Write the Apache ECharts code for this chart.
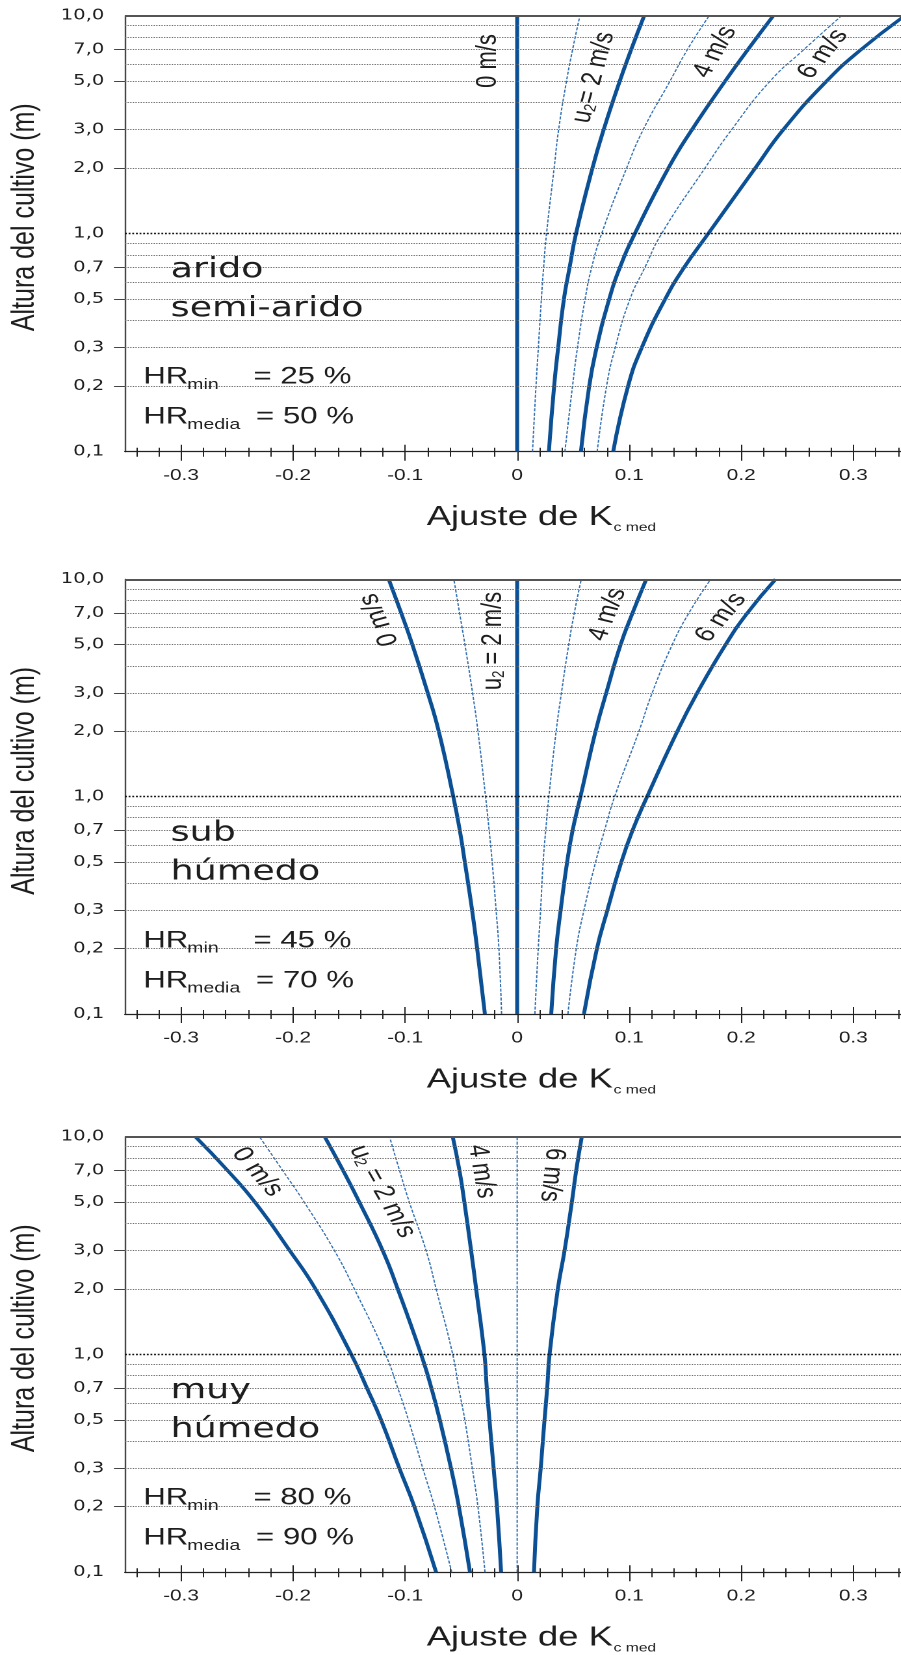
<!DOCTYPE html>
<html><head><meta charset="utf-8">
<script src="https://cdn.jsdelivr.net/npm/echarts@6/dist/echarts.min.js"></script>
<style>
html,body{margin:0;padding:0;background:#fff;overflow:hidden;}
#main{width:693px;height:1655px;transform:scaleX(1.3);transform-origin:0 0;}
</style></head><body><div id="main"></div>
<script>
// ---------- DATA ----------
const heights = [0.1, 0.2, 0.3, 0.5, 0.7, 1, 2, 3, 5, 7, 10];
// Panel 1: arido / semi-arido (u2 = 0..6 m/s)
const arido_u0 = [0, 0, 0, 0, 0, 0, 0, 0, 0, 0, 0];
const arido_u1 = [0.0137, 0.0168, 0.0189, 0.0216, 0.0236, 0.0262, 0.033, 0.037, 0.044, 0.0495, 0.056];
const arido_u2 = [0.0283, 0.033, 0.0366, 0.0417, 0.0468, 0.0525, 0.0672, 0.0772, 0.0915, 0.1018, 0.1134];
const arido_u3 = [0.0426, 0.0494, 0.0538, 0.0606, 0.0665, 0.0754, 0.0977, 0.1125, 0.1363, 0.152, 0.1714];
const arido_u4 = [0.0569, 0.0643, 0.0709, 0.0821, 0.0917, 0.105, 0.135, 0.156, 0.1855, 0.206, 0.2286];
const arido_u5 = [0.0714, 0.0798, 0.0875, 0.1006, 0.114, 0.1289, 0.1676, 0.1914, 0.2256, 0.256, 0.2896];
const arido_u6 = [0.0857, 0.099, 0.1112, 0.132, 0.149, 0.1705, 0.2125, 0.2375, 0.276, 0.307, 0.346];
// Panel 2: sub humedo
const sub_u0 = [-0.0288, -0.0357, -0.0402, -0.0467, -0.0512, -0.057, -0.07, -0.0798, -0.0935, -0.1035, -0.1146];
const sub_u1 = [-0.0139, -0.0163, -0.0188, -0.0223, -0.025, -0.0282, -0.035, -0.0398, -0.0466, -0.0514, -0.0565];
const sub_u2 = [0, 0, 0, 0, 0, 0, 0, 0, 0, 0, 0];
const sub_u3 = [0.0158, 0.0188, 0.0209, 0.0232, 0.0255, 0.0283, 0.0348, 0.0395, 0.046, 0.051, 0.0572];
const sub_u4 = [0.0304, 0.0348, 0.0388, 0.0446, 0.0495, 0.0565, 0.07, 0.0795, 0.0923, 0.103, 0.1152];
const sub_u5 = [0.0453, 0.0528, 0.0596, 0.07, 0.078, 0.087, 0.1087, 0.1205, 0.1384, 0.1533, 0.1727];
const sub_u6 = [0.0596, 0.0712, 0.0805, 0.093, 0.103, 0.116, 0.143, 0.1607, 0.186, 0.2055, 0.2307];
// Panel 3: muy humedo
const muy_u0 = [-0.0723, -0.0917, -0.1051, -0.1214, -0.134, -0.148, -0.18, -0.203, -0.234, -0.2585, -0.2872];
const muy_u1 = [-0.0584, -0.0738, -0.0842, -0.097, -0.1065, -0.1175, -0.1453, -0.1631, -0.19, -0.2093, -0.23];
const muy_u2 = [-0.0421, -0.052, -0.059, -0.069, -0.0765, -0.0857, -0.1066, -0.12, -0.1408, -0.1554, -0.1718];
const muy_u3 = [-0.0287, -0.035, -0.04, -0.0467, -0.0521, -0.0575, -0.0723, -0.0813, -0.0962, -0.105, -0.1139];
const muy_u4 = [-0.0143, -0.018, -0.021, -0.0247, -0.0271, -0.0292, -0.0366, -0.0411, -0.0471, -0.0515, -0.0575];
const muy_u5 = [0, 0, 0, 0, 0, 0, 0, 0, 0, 0, 0];
const muy_u6 = [0.015, 0.018, 0.021, 0.0244, 0.0268, 0.0289, 0.0363, 0.0423, 0.0488, 0.0527, 0.0577];

const xMajorTicks = [-0.3, -0.2, -0.1, 0, 0.1, 0.2, 0.3];
const xMinorTicks = [-0.34, -0.32, -0.28, -0.26, -0.24, -0.22, -0.18, -0.16, -0.14, -0.12, -0.08, -0.06, -0.04, -0.02,
                     0.02, 0.04, 0.06, 0.08, 0.12, 0.14, 0.16, 0.18, 0.22, 0.24, 0.26, 0.28, 0.32, 0.34];
const yLabelValues = [0.1, 0.2, 0.3, 0.5, 0.7, 1, 2, 3, 5, 7, 10];
const yTickValues = [0.2, 0.3, 0.5, 0.7, 2, 3, 5, 7];
const gridLineValues = [0.2, 0.3, 0.4, 0.5, 0.6, 0.7, 0.8, 0.9, 2, 3, 4, 5, 6, 7, 8, 9];

const climateLines = [['arido', 'semi-arido'], ['sub', 'húmedo'], ['muy', 'húmedo']];
const hrMin = [25, 45, 80];
const hrMedia = [50, 70, 90];
const windText = ['0 m/s', 'u{s|2}= 2 m/s', '4 m/s', '6 m/s'];
const windText23 = ['0 m/s', 'u{s|2} = 2 m/s', '4 m/s', '6 m/s'];

// ---------- LAYOUT ----------
const panelCurves = [
  [arido_u0, arido_u1, arido_u2, arido_u3, arido_u4, arido_u5, arido_u6],
  [sub_u0, sub_u1, sub_u2, sub_u3, sub_u4, sub_u5, sub_u6],
  [muy_u0, muy_u1, muy_u2, muy_u3, muy_u4, muy_u5, muy_u6]
];
const P = [{T: 15.7, B: 451.7}, {T: 579.3, B: 1014}, {T: 1136.7, B: 1572.3}];
const LEFT = 96.15;
const THICK = '#0b4f94', THIN = '#2e6db0', INK = '#1e1e1e';
const SANS = 'Liberation Sans', VERD = 'DejaVu Sans';

// label placement per panel: [cx, dyFromTop, rotationDeg]
const windPos = [
  [[375.6, 45.3, 90], [456.5, 61.8, 78], [550, 36.3, 66], [633, 38.3, 58]],
  [[291.7, 40.5, 109.5], [379.2, 61.7, 90], [467.3, 35.2, 72.7], [554.6, 38.2, 57]],
  [[198, 35.3, -55.8], [294.2, 54.8, -66.3], [370.4, 34.8, -81.8], [424.6, 38.3, -95]]
];

const grids = [], xAxes = [], yAxes = [], series = [], graphics = [];
const xFmt = v => Math.abs(v) < 1e-9 ? '0' : String(+v.toFixed(1));
const yFmt = v => (+v).toFixed(1).replace('.', ',');

function txt(x, y, text, size, family, extra) {
  graphics.push(Object.assign({
    type: 'text', x: x, y: y, z: 100, silent: true,
    style: {text: text, fontSize: size, fontFamily: family, fill: INK, align: 'left', verticalAlign: 'middle'}
  }, extra || {}));
}

P.forEach((p, i) => {
  const H = p.B - p.T;
  grids.push({left: LEFT, top: p.T, height: H, right: 0, containLabel: false});
  const base = {type: 'value', gridIndex: i, min: -0.35, max: 0.3425, position: 'bottom',
    splitLine: {show: false}, axisLine: {show: false, onZero: false}, axisLabel: {show: false}};
  xAxes.push(Object.assign({}, base, {
    axisLine: {show: true, onZero: false, lineStyle: {color: '#222', width: 1.3}},
    axisTick: {show: true, customValues: xMajorTicks, length: 9, lineStyle: {color: '#222', width: 1}},
    axisLabel: {show: true, customValues: xMajorTicks, formatter: xFmt, margin: 16,
      fontFamily: SANS, fontSize: 16, color: INK}
  }));
  xAxes.push(Object.assign({}, base, {axisTick: {show: true, inside: true, customValues: xMajorTicks, length: 7, lineStyle: {color: '#222', width: 1}}}));
  xAxes.push(Object.assign({}, base, {axisTick: {show: true, customValues: xMinorTicks, length: 5, lineStyle: {color: '#222', width: 1}}}));
  xAxes.push(Object.assign({}, base, {axisTick: {show: true, inside: true, customValues: xMinorTicks, length: 4, lineStyle: {color: '#222', width: 1}}}));
  yAxes.push({
    type: 'log', logBase: 10, gridIndex: i, min: 0.1, max: 10,
    axisLine: {show: true, onZero: false, lineStyle: {color: '#444', width: 1.2}},
    axisTick: {show: true, customValues: yTickValues, length: 8.5, lineStyle: {color: '#444', width: 1}},
    axisLabel: {show: true, customValues: yLabelValues, formatter: yFmt, margin: 16,
      fontFamily: VERD, fontSize: 15, color: INK},
    splitLine: {show: false}, minorTick: {show: false}, minorSplitLine: {show: false}
  });
  // horizontal grid lines
  const ml = gridLineValues.map(v => ({yAxis: v, lineStyle: {color: '#6a6a6a', type: 'dotted', width: 1}}));
  ml.push({yAxis: 1, lineStyle: {color: '#111', type: 'dotted', width: 1.4}});
  ml.push({yAxis: 10, lineStyle: {color: '#555', type: 'solid', width: 2}});
  series.push({type: 'line', xAxisIndex: i * 4, yAxisIndex: i, data: [], silent: true, z: 1,
    markLine: {silent: true, symbol: ['none', 'none'], animation: false, label: {show: false},
      emphasis: {disabled: true}, data: ml}});
  // curves
  panelCurves[i].forEach((arr, k) => {
    const thick = k % 2 === 0;
    series.push({
      type: 'line', xAxisIndex: i * 4, yAxisIndex: i, z: thick ? 4 : 3, silent: true,
      data: arr.map((x, j) => [x, heights[j]]), smooth: 0.5, symbol: 'none', showSymbol: false, clip: true,
      lineStyle: thick ? {color: THICK, width: 3} : {color: THIN, width: 1, type: [3, 1.5]}
    });
  });
  // texts
  const T = p.T, B = p.B;
  txt(19.2, T + 201.5, 'Altura del cultivo (m)', 25, SANS, {rotation: Math.PI / 2,
    style: {text: 'Altura del cultivo (m)', fontSize: 25, fontFamily: SANS, fill: INK, align: 'center', verticalAlign: 'middle'}});
  txt(328.2, B + 65.7, 'Ajuste de K', 28, SANS);
  txt(472, B + 76, 'c med', 12, SANS);
  txt(131.3, T + 253.8, climateLines[i][0], 28, VERD);
  txt(131.3, T + 292.8, climateLines[i][1], 28, VERD);
  txt(110.2, T + 361.4, 'HR', 24, SANS);
  txt(144, T + 369.3, 'min', 15, SANS);
  txt(194.9, T + 361.4, '= ' + hrMin[i] + ' %', 24, SANS);
  txt(110.2, T + 401.4, 'HR', 24, SANS);
  txt(144, T + 409, 'media', 15, SANS);
  txt(196.9, T + 401.4, '= ' + hrMedia[i] + ' %', 24, SANS);
  const wt = i === 0 ? windText : windText23;
  windPos[i].forEach((w, k) => {
    graphics.push({type: 'text', x: w[0], y: T + w[1], rotation: w[2] * Math.PI / 180, z: 100, silent: true,
      style: {text: wt[k], fontSize: 22, fontFamily: SANS, fill: INK, align: 'center', verticalAlign: 'middle',
        rich: {s: {fontSize: 13, fontFamily: SANS, fill: INK, verticalAlign: 'bottom'}}}});
  });
});

const chart = echarts.init(document.getElementById('main'), null, {renderer: 'canvas', devicePixelRatio: 2, width: 693, height: 1655});
chart.setOption({
  animation: false,
  backgroundColor: '#fff',
  grid: grids, xAxis: xAxes, yAxis: yAxes, series: series, graphic: graphics
});
</script></body></html>
